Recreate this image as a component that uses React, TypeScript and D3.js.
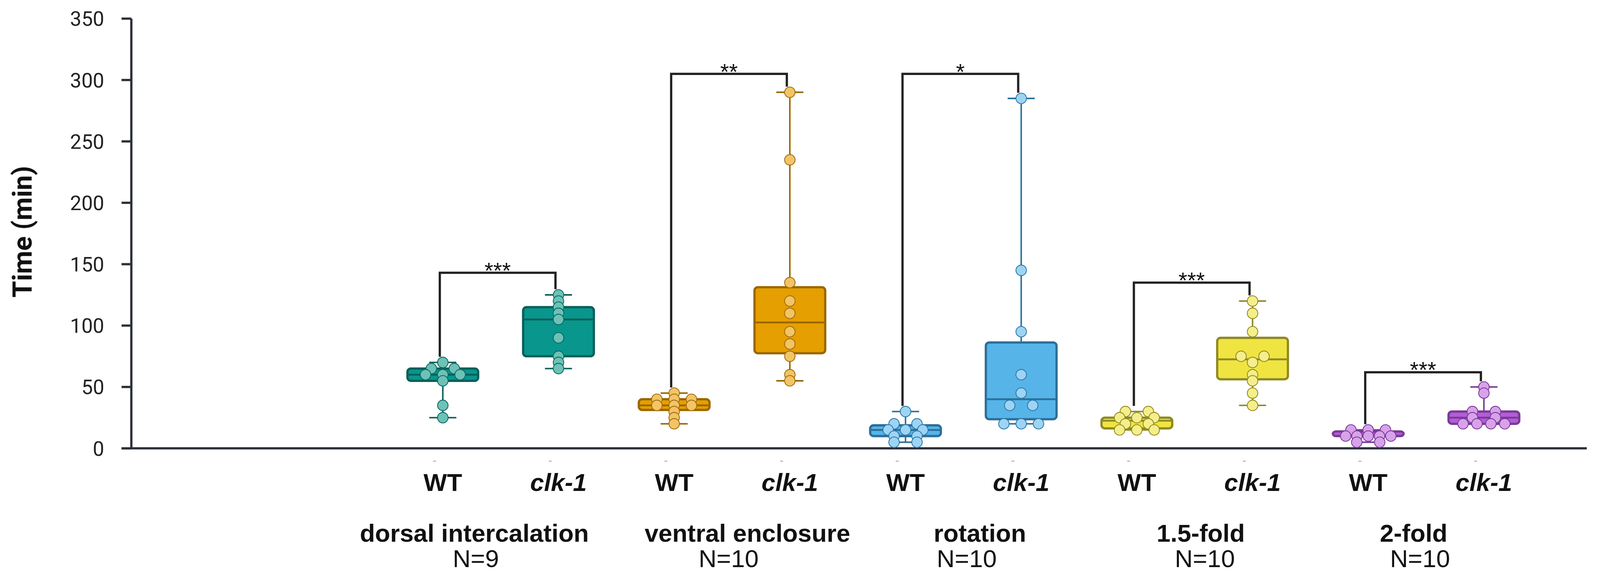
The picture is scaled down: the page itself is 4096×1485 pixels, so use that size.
import React from "react";
import * as d3 from "d3";

// ---- data ----
const stages = ["dorsal intercalation", "ventral enclosure", "rotation", "1.5-fold", "2-fold"];
const stageN = ["N=9", "N=10", "N=10", "N=10", "N=10"];
const genotypes = ["WT", "clk-1"];

const dorsalWT = [70, 65, 65, 60, 60, 60, 55, 35, 25];
const dorsalClk = [125, 120, 115, 110, 105, 90, 75, 70, 65];
const ventralWT = [45, 40, 40, 40, 35, 35, 35, 30, 25, 20];
const ventralClk = [290, 235, 135, 120, 110, 95, 85, 75, 60, 55];
const rotationWT = [30, 20, 20, 15, 15, 15, 10, 10, 5, 5];
const rotationClk = [285, 145, 95, 60, 45, 35, 35, 20, 20, 20];
const fold15WT = [30, 30, 25, 25, 25, 20, 20, 15, 15, 15];
const fold15Clk = [120, 110, 95, 75, 75, 70, 60, 55, 45, 35];
const fold2WT = [15, 15, 15, 10, 10, 10, 10, 10, 5, 5];
const fold2Clk = [50, 45, 30, 30, 25, 25, 20, 20, 20, 20];

const seriesValues = [
  [dorsalWT, dorsalClk],
  [ventralWT, ventralClk],
  [rotationWT, rotationClk],
  [fold15WT, fold15Clk],
  [fold2WT, fold2Clk],
];

const significance = ["***", "**", "*", "***", "***"];
const bracketLevels = [143, 305, 305, 135, 62];
const yTicks = [0, 50, 100, 150, 200, 250, 300, 350];

// ---- styles ----
const palette = [
  { fill: "#08968d", stroke: "#0a5f59", dot: "#6dc1b6", dotStroke: "#0b6a62" },
  { fill: "#e69f00", stroke: "#9a6700", dot: "#f2c465", dotStroke: "#a06c10" },
  { fill: "#56b4e9", stroke: "#2b6f99", dot: "#9dd4f4", dotStroke: "#2f78a6" },
  { fill: "#f0e442", stroke: "#8e8a24", dot: "#f5ee8c", dotStroke: "#938b1e" },
  { fill: "#b35cd8", stroke: "#7a3a96", dot: "#d8a2ea", dotStroke: "#7a3a98" },
];

const W = 4253;
const H = 1542;
const axisColor = "#2b3038";
const labelFont = "'Liberation Sans', Arial, sans-serif";

const boxWidth = 188;
const capWidth = 72;
const dotR = 14;
// horizontal gap used when several points share the same value
const gapFor = (n: number) => (n <= 1 ? 0 : n === 2 ? 61 : n === 3 ? 46 : n === 4 ? 37 : 30);
// hand-placed label nudges (relative to the pair midpoint)
const stageNudge = [-70, 41, 44, 16, -33];
const nNudge = [-66, -9, 9, 27, -16];

function swarm(values: number[]) {
  const groups = d3.group(values, (v) => v);
  const out: { v: number; dx: number }[] = [];
  groups.forEach((arr, v) => {
    const n = arr.length;
    const g = gapFor(n);
    arr.forEach((_, i) => out.push({ v, dx: (i - (n - 1) / 2) * g }));
  });
  return out;
}

export default function App() {
  const keys = stages.flatMap((s, i) => genotypes.map((g) => `${i}|${g}`));
  const x = d3.scaleBand<string>().domain(keys).range([1023.25, 4098.25]).padding(0);
  const cx = (i: number, j: number) => (x(`${i}|${genotypes[j]}`) as number) + x.bandwidth() / 2;
  const y = d3.scaleLinear().domain([0, 350]).range([1192, 49.5]);

  const axisX = 349;
  const axisY = y(0);

  return (
    <svg
      width={4096}
      height={1485}
      viewBox={`0 0 ${W} ${H}`}
      style={{ position: "absolute", left: 0, top: 0, background: "#fff" }}
    >
      <rect width={W} height={H} fill="#fff" />

      {/* y axis */}
      <line x1={axisX} x2={axisX} y1={y(350)} y2={axisY} stroke={axisColor} strokeWidth={6} />
      {yTicks.map((t) => (
        <g key={t}>
          <line x1={axisX - 26} x2={axisX} y1={y(t)} y2={y(t)} stroke={axisColor} strokeWidth={6} />
          <text
            x={277}
            y={y(t)}
            dy="0.36em"
            textAnchor="end"
            fontFamily="Roboto, sans-serif"
            fontSize={54}
            fill="#222"
          >
            {t}
          </text>
        </g>
      ))}
      <text
        transform={`translate(84, 616) rotate(-90)`}
        textAnchor="middle"
        fontFamily="Roboto, sans-serif"
        fontWeight="bold"
        fontSize={71}
        fill="#111"
      >
        Time (min)
      </text>

      {/* x axis */}
      <line x1={axisX - 26} x2={4218} y1={axisY} y2={axisY} stroke={axisColor} strokeWidth={6} />
      {keys.map((k, idx) => (
        <line
          key={k}
          x1={(x(k) as number) + x.bandwidth() / 2 - 26}
          x2={(x(k) as number) + x.bandwidth() / 2 - 18}
          y1={1226}
          y2={1226}
          stroke="#9a9a9a"
          strokeWidth={2}
        />
      ))}

      {/* boxes */}
      {seriesValues.map((pair, i) =>
        pair.map((vals, j) => {
          const c = palette[i];
          const sorted = [...vals].sort(d3.ascending);
          const q1 = d3.quantile(sorted, 0.25) as number;
          const med = d3.quantile(sorted, 0.5) as number;
          const q3 = d3.quantile(sorted, 0.75) as number;
          const lo = sorted[0];
          const hi = sorted[sorted.length - 1];
          const xc = cx(i, j);
          return (
            <g key={`${i}-${j}`}>
              <line x1={xc} x2={xc} y1={y(hi)} y2={y(lo)} stroke={c.stroke} strokeWidth={4} />
              <line x1={xc - capWidth / 2} x2={xc + capWidth / 2} y1={y(hi)} y2={y(hi)} stroke={c.stroke} strokeWidth={4} />
              <line x1={xc - capWidth / 2} x2={xc + capWidth / 2} y1={y(lo)} y2={y(lo)} stroke={c.stroke} strokeWidth={4} />
              <rect
                x={xc - boxWidth / 2}
                y={y(q3)}
                width={boxWidth}
                height={Math.max(y(q1) - y(q3), 0.1)}
                rx={9}
                fill={c.fill}
                stroke={c.stroke}
                strokeWidth={6}
              />
              <line x1={xc - boxWidth / 2 + 3} x2={xc + boxWidth / 2 - 3} y1={y(med)} y2={y(med)} stroke={c.stroke} strokeWidth={5} />
              {swarm(vals).map((p, k) => (
                <circle
                  key={k}
                  cx={xc + p.dx}
                  cy={y(p.v)}
                  r={dotR}
                  fill={c.dot}
                  stroke={c.dotStroke}
                  strokeWidth={2.2}
                />
              ))}
            </g>
          );
        })
      )}

      {/* significance brackets */}
      {seriesValues.map((pair, i) => {
        const xl = cx(i, 0) - 8;
        const xr = cx(i, 1) - 8;
        const yb = y(bracketLevels[i]);
        const endL = Math.max(y(d3.max(pair[0]) as number) - dotR - 1, yb + 20);
        const endR = Math.max(y(d3.max(pair[1]) as number) - dotR - 1, yb + 20);
        return (
          <g key={`b${i}`}>
            <path
              d={`M${xl},${endL}V${yb}H${xr}V${endR}`}
              fill="none"
              stroke="#222"
              strokeWidth={6}
              strokeLinejoin="miter"
            />
            <text
              x={(xl + xr) / 2}
              y={yb + 15}
              textAnchor="middle"
              fontFamily={labelFont}
              fontSize={60}
              fill="#111"
            >
              {significance[i]}
            </text>
          </g>
        );
      })}

      {/* category labels */}
      {stages.map((s, i) => (
        <g key={`l${i}`}>
          {genotypes.map((g, j) => (
            <text
              key={g}
              x={cx(i, j)}
              y={1305}
              textAnchor="middle"
              fontFamily={labelFont}
              fontWeight="bold"
              fontStyle={j === 1 ? "italic" : "normal"}
              fontSize={66}
              fill="#111"
            >
              {g}
            </text>
          ))}
          <text
            x={(cx(i, 0) + cx(i, 1)) / 2 + stageNudge[i]}
            y={1440}
            textAnchor="middle"
            fontFamily={labelFont}
            fontWeight="bold"
            fontSize={66}
            fill="#111"
          >
            {s}
          </text>
          <text
            x={(cx(i, 0) + cx(i, 1)) / 2 + nNudge[i]}
            y={1508}
            textAnchor="middle"
            fontFamily={labelFont}
            fontSize={66}
            fill="#111"
          >
            {stageN[i]}
          </text>
        </g>
      ))}
    </svg>
  );
}
